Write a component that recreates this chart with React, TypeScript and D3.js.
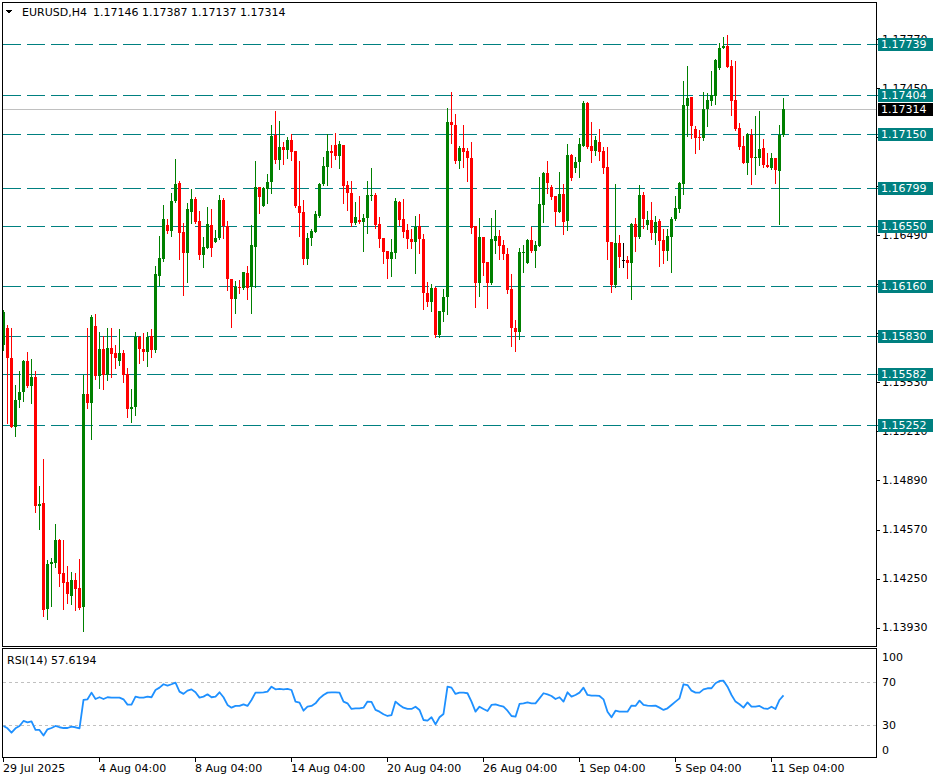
import React from 'react';
import * as d3 from 'd3';

const symbolLabel = 'EURUSD,H4';
const headerValues = '1.17146 1.17387 1.17137 1.17314';
const rsiLabel = 'RSI(14) 57.6194';
const lastPrice = 1.17314;

const openP = [
  1.15774,1.15885,1.15689,1.15239,1.15415,1.15467,1.15670,1.15507,1.15565,1.14723,
  1.14743,1.14051,1.14345,1.14351,1.14501,1.14286,1.14227,1.14136,1.14240,1.14188,
  1.14064,1.15454,1.15396,1.15898,1.15572,1.15748,1.15578,1.15755,1.15722,1.15670,
  1.15722,1.15585,1.15357,1.15370,1.15826,1.15748,1.15728,1.15833,1.15742,1.16225,
  1.16336,1.16558,1.16518,1.16714,1.16832,1.16512,1.16375,1.16642,1.16727,1.16584,
  1.16362,1.16407,1.16558,1.16446,1.16473,1.16721,1.16551,1.16205,1.16074,1.16153,
  1.16146,1.16244,1.16153,1.16414,1.16805,1.16682,1.16792,1.16838,1.17145,1.16982,
  1.17067,1.17047,1.17112,1.17040,1.16682,1.16642,1.16336,1.16473,1.16512,1.16616,
  1.16825,1.16936,1.17040,1.17080,1.17008,1.17080,1.16819,1.16766,1.16571,1.16590,
  1.16577,1.16603,1.16747,1.16753,1.16564,1.16473,1.16388,1.16336,1.16375,1.16708,
  1.16597,1.16525,1.16466,1.16446,1.16551,1.16466,1.16114,1.16055,1.16146,1.15840,
  1.15990,1.16088,1.17230,1.17210,1.16975,1.17060,1.17040,1.16995,1.16551,1.16179,
  1.16479,1.16316,1.16179,1.16453,1.16486,1.16427,1.16368,1.16140,1.15885,1.15859,
  1.16375,1.16309,1.16460,1.16388,1.16420,1.16688,1.16897,1.16805,1.16747,1.16642,
  1.16760,1.16584,1.17014,1.16930,1.16969,1.17073,1.17354,1.17073,1.17040,1.17099,
  1.17040,1.16936,1.16446,1.16166,1.16440,1.16329,1.16329,1.16309,1.16564,1.16479,
  1.16753,1.16558,1.16590,1.16505,1.16584,1.16460,1.16388,1.16479,1.16597,1.16662,
  1.16825,1.17334,1.17393,1.17184,1.17132,1.17125,1.17315,1.17367,1.17399,1.17582,
  1.17713,1.17726,1.17595,1.17373,1.17191,1.17073,1.16962,1.17145,1.16995,1.16995,
  1.17060,1.16949,1.16930,1.16995,1.16910,1.17146,
];

const highP = [
  1.16003,1.15905,1.15885,1.15513,1.15605,1.15676,1.15728,1.15683,1.15605,1.14854,
  1.15030,1.14371,1.14384,1.14606,1.14508,1.14501,1.14332,1.14293,1.14286,1.14377,
  1.15578,1.15885,1.15970,1.15977,1.15859,1.15833,1.15885,1.15885,1.15774,1.15879,
  1.15742,1.15624,1.15487,1.15859,1.15833,1.15853,1.15859,1.15879,1.16290,1.16486,
  1.16688,1.16597,1.16766,1.16988,1.16845,1.16571,1.16701,1.16792,1.16740,1.16649,
  1.16479,1.16675,1.16662,1.16525,1.16753,1.16734,1.16584,1.16205,1.16192,1.16198,
  1.16251,1.16290,1.16558,1.16975,1.16805,1.16805,1.16890,1.17210,1.17302,1.17236,
  1.17099,1.17132,1.17151,1.17040,1.16975,1.16721,1.16505,1.16531,1.16649,1.16832,
  1.17001,1.17151,1.17080,1.17158,1.17106,1.17080,1.16845,1.16845,1.16708,1.16747,
  1.16629,1.16845,1.16930,1.16766,1.16610,1.16473,1.16388,1.16466,1.16734,1.16714,
  1.16727,1.16564,1.16531,1.16616,1.16629,1.16499,1.16185,1.16172,1.16153,1.15996,
  1.16140,1.17321,1.17426,1.17282,1.17073,1.17210,1.17060,1.17099,1.16551,1.16603,
  1.16479,1.16316,1.16603,1.16655,1.16525,1.16460,1.16407,1.16238,1.15937,1.16407,
  1.16427,1.16466,1.16544,1.16453,1.16871,1.16903,1.16975,1.16819,1.16747,1.16903,
  1.16825,1.17086,1.17021,1.17001,1.17125,1.17367,1.17360,1.17230,1.17138,1.17184,
  1.17067,1.17067,1.16446,1.16825,1.16492,1.16440,1.16355,1.16571,1.16603,1.16819,
  1.16773,1.16649,1.16708,1.16616,1.16597,1.16531,1.16531,1.16610,1.16747,1.16838,
  1.17497,1.17595,1.17393,1.17204,1.17178,1.17426,1.17419,1.17563,1.17641,1.17745,
  1.17785,1.17798,1.17634,1.17628,1.17223,1.17138,1.17158,1.17184,1.17269,1.17302,
  1.17119,1.17027,1.17027,1.16995,1.17210,1.17387,
];

const lowP = [
  1.15742,1.15265,1.15239,1.15180,1.15370,1.15409,1.15500,1.15396,1.14684,1.14573,
  1.14005,1.13986,1.14071,1.14325,1.14201,1.14051,1.14090,1.14084,1.14045,1.14051,
  1.13908,1.15363,1.15161,1.15552,1.15494,1.15487,1.15546,1.15565,1.15624,1.15644,
  1.15533,1.15304,1.15272,1.15317,1.15657,1.15676,1.15637,1.15696,1.15728,1.16166,
  1.16323,1.16505,1.16486,1.16708,1.16336,1.16101,1.16185,1.16571,1.16571,1.16336,
  1.16283,1.16407,1.16355,1.16446,1.16466,1.16473,1.16133,1.15892,1.15983,1.16114,
  1.16140,1.16074,1.15983,1.16153,1.16636,1.16682,1.16701,1.16766,1.16962,1.16923,
  1.16956,1.16995,1.16982,1.16675,1.16486,1.16303,1.16303,1.16427,1.16512,1.16610,
  1.16819,1.16819,1.16936,1.16988,1.16930,1.16701,1.16655,1.16551,1.16564,1.16571,
  1.16388,1.16505,1.16721,1.16538,1.16414,1.16309,1.16211,1.16225,1.16342,1.16558,
  1.16479,1.16407,1.16407,1.16244,1.16375,1.16009,1.16029,1.15996,1.15826,1.15826,
  1.15931,1.15977,1.17093,1.16962,1.16930,1.16936,1.16845,1.16505,1.16022,1.16094,
  1.16231,1.16016,1.16172,1.16375,1.16336,1.16336,1.16114,1.15768,1.15735,1.15813,
  1.16251,1.16309,1.16381,1.16283,1.16420,1.16577,1.16766,1.16727,1.16558,1.16642,
  1.16499,1.16525,1.16851,1.16903,1.16871,1.17073,1.17060,1.16969,1.17014,1.16982,
  1.16897,1.16336,1.16120,1.16153,1.16283,1.16283,1.16211,1.16074,1.16388,1.16473,
  1.16538,1.16531,1.16466,1.16433,1.16290,1.16309,1.16329,1.16251,1.16590,1.16642,
  1.16760,1.17138,1.17125,1.17027,1.17053,1.17112,1.17204,1.17341,1.17347,1.17576,
  1.17713,1.17589,1.17275,1.17178,1.17053,1.16962,1.16890,1.16825,1.16890,1.16949,
  1.16936,1.16936,1.16923,1.16832,1.16564,1.17137,
];

const closeP = [
  1.15990,1.15689,1.15240,1.15415,1.15467,1.15670,1.15507,1.15565,1.14723,1.14736,
  1.14045,1.14345,1.14358,1.14501,1.14280,1.14221,1.14149,1.14240,1.14182,1.14058,
  1.15454,1.15396,1.15957,1.15572,1.15748,1.15578,1.15755,1.15715,1.15689,1.15722,
  1.15578,1.15357,1.15370,1.15826,1.15748,1.15728,1.15826,1.15742,1.16238,1.16342,
  1.16597,1.16518,1.16714,1.16825,1.16505,1.16375,1.16662,1.16727,1.16577,1.16362,
  1.16414,1.16564,1.16407,1.16473,1.16721,1.16551,1.16205,1.16074,1.16153,1.16146,
  1.16251,1.16146,1.16427,1.16805,1.16740,1.16799,1.16838,1.17138,1.16982,1.17067,
  1.17047,1.17112,1.17034,1.16682,1.16636,1.16336,1.16473,1.16518,1.16629,1.16825,
  1.16943,1.17040,1.17027,1.17008,1.17086,1.16812,1.16766,1.16571,1.16610,1.16577,
  1.16603,1.16753,1.16753,1.16558,1.16466,1.16381,1.16336,1.16381,1.16714,1.16590,
  1.16512,1.16466,1.16446,1.16544,1.16466,1.16114,1.16055,1.16146,1.15840,1.15996,
  1.16088,1.17230,1.17210,1.16975,1.17060,1.17034,1.16995,1.16538,1.16179,1.16479,
  1.16309,1.16179,1.16466,1.16486,1.16420,1.16368,1.16133,1.15885,1.15859,1.16381,
  1.16381,1.16460,1.16388,1.16427,1.16695,1.16897,1.16832,1.16740,1.16642,1.16760,
  1.16577,1.17014,1.16864,1.16969,1.17086,1.17354,1.17067,1.17040,1.17112,1.17034,
  1.16930,1.16446,1.16166,1.16440,1.16349,1.16329,1.16309,1.16564,1.16479,1.16753,
  1.16597,1.16590,1.16505,1.16577,1.16453,1.16388,1.16486,1.16597,1.16668,1.16832,
  1.17341,1.17386,1.17204,1.17125,1.17125,1.17315,1.17373,1.17406,1.17634,1.17713,
  1.17726,1.17589,1.17367,1.17184,1.17067,1.16962,1.17151,1.16995,1.17001,1.17053,
  1.16949,1.16936,1.16995,1.16916,1.17145,1.17314,
];

const rsiValues = [
  29.4,27.2,23.2,27.2,29.4,34,32.8,33.7,25.7,25.7,20.5,26.3,27.5,29.4,28.2,27.5,27.5,28.8,28.2,27.2,
  53.4,54,60.2,54.3,55.9,54.3,55.9,55.6,55.6,55.6,54,49.1,49.1,56.5,55.6,55.6,56.5,55.9,62.6,64.8,
  67.9,66.6,67.9,69.4,61.1,59,62,63.2,60.5,55.6,56.5,58.6,55.9,56.5,60.5,55.9,48.8,46.3,47.9,47.9,
  49.4,47.9,53.4,60.2,60.2,60.5,61.1,65.7,63.2,63.6,63.2,63.6,62.6,51.9,50.9,43.5,47.2,47.9,50.3,54.9,
  58,60.2,60.5,60.5,60.2,51.9,50.3,45.1,45.7,45.7,46.3,51.9,51.6,44.2,42.6,40.2,38.6,39.5,51.9,48.8,
  46.3,45.1,45.1,47.2,44.2,34.9,34.3,37.4,30.9,37.4,40.5,65.7,64.8,59,60.2,60.2,59.6,51.9,42.6,47.2,
  45.1,43.2,48.8,49.4,48.2,47.2,43.5,38.6,38,49.7,50.3,51.2,50.3,50.3,54.9,59.6,58.6,57.1,54.3,55.9,
  51.9,60.5,56.5,58,60.2,64.8,58,57.4,57.4,57.1,54,42.6,37.4,43.5,42.6,42.6,42.6,48.2,47.9,52.8,
  48.8,48.2,47.9,48.2,46.3,44.2,45.7,48.8,51.9,54.9,67.9,67.2,62,60.2,60.2,63.2,64.2,64.2,68.8,70.9,
  71.2,65.7,58,51.9,49.4,46.3,51.2,47.2,47.2,47.9,45.7,45.1,47.2,45.1,53.4,57.6194,
];

const levelPrices = [1.17739, 1.17404, 1.17150, 1.16799, 1.16550, 1.16160, 1.15830, 1.15582, 1.15252];
const priceTickLabels = ['1.13930','1.14250','1.14570','1.14890','1.15210','1.15530','1.15850','1.16170','1.16490','1.16810','1.17130','1.17450','1.17770'];
const xTickIndex = [0, 24, 48, 72, 96, 120, 144, 168, 192];
const xTickLabels = ['29 Jul 2025','4 Aug 04:00','8 Aug 04:00','14 Aug 04:00','20 Aug 04:00','26 Aug 04:00','1 Sep 04:00','5 Sep 04:00','11 Sep 04:00'];
const rsiTicks = [100, 70, 30, 0];
const rsiLevels = [70, 30];

const FONT = "'DejaVu Sans', Tahoma, sans-serif";
const UP = '#008000';
const DOWN = '#ff0000';
const TEAL = '#008080';

export default function App() {
  const W = 940, H = 782;
  const left = 2, right = 876;
  const mainTop = 2, mainBottom = 646;
  const rsiTop = 648, rsiBottom = 758;

  const x = d3.scaleLinear().domain([0, openP.length - 1]).range([3, 3 + 4 * (openP.length - 1)]);
  const y = d3.scaleLinear().domain([1.1393, 1.1777]).range([627.6, 39.2]);
  const yr = d3.scaleLinear().domain([0, 100]).range([757.8, 649.5]);
  const snap = (v: number) => Math.round(v) + 0.5;

  const rsiLine = d3.line<number>().x((_, i) => x(i) + 0.5).y((d) => yr(d)).curve(d3.curveLinear);

  // axis labels that a level label box fully covers are not drawn (as in the terminal)
  const boxYs = [...levelPrices, lastPrice].map((p) => y(p));
  const visibleTicks = priceTickLabels.filter((t) => !boxYs.some((by) => Math.abs(by - y(+t)) < 4));

  const candles = openP.map((o, i) => {
    const c = closeP[i];
    const cx = Math.round(x(i));
    const yH = Math.round(y(highP[i]));
    const yL = Math.round(y(lowP[i]));
    const yO = Math.round(y(o));
    const yC = Math.round(y(c));
    const color = c > o ? UP : c < o ? DOWN : '#000000';
    const top = Math.min(yO, yC);
    const bh = Math.max(1, Math.abs(yO - yC));
    return (
      <g key={i} fill={color}>
        <rect x={cx} y={yH} width={1} height={Math.max(1, yL - yH + 1)} />
        <rect x={cx - 1} y={top} width={3} height={bh} />
      </g>
    );
  });

  return (
    <svg width={W} height={H} style={{ position: 'absolute', left: 0, top: 0, background: '#fff' }}
      fontFamily={FONT} shapeRendering="crispEdges">
      <rect x={0} y={0} width={W} height={H} fill="#fff" />

      {/* price axis ticks and labels */}
      {priceTickLabels.map((t) => (
        <line key={'t' + t} x1={right} x2={right + 4} y1={snap(y(+t))} y2={snap(y(+t))} stroke="#000" />
      ))}
      {visibleTicks.map((t) => (
        <text key={t} x={882} y={y(+t)} dy="0.35em" fontSize={11} fill="#000">{t}</text>
      ))}

      {/* level lines */}
      {levelPrices.map((p) => (
        <line key={p} x1={left + 1} x2={right} y1={snap(y(p))} y2={snap(y(p))} stroke={TEAL}
          strokeDasharray="18,6" />
      ))}
      <line x1={left} x2={right} y1={snap(y(lastPrice))} y2={snap(y(lastPrice))} stroke="#c0c0c0" />

      {candles}

      {/* level labels */}
      {levelPrices.map((p) => (
        <g key={'l' + p}>
          <line x1={right} x2={right + 3} y1={snap(y(p))} y2={snap(y(p))} stroke={TEAL} />
          <rect x={878} y={Math.round(y(p)) - 6} width={55} height={13} fill={TEAL} />
          <text x={881} y={y(p)} dy="0.36em" fontSize={11} fill="#fff">{p.toFixed(5)}</text>
        </g>
      ))}
      <rect x={878} y={Math.round(y(lastPrice)) - 6} width={55} height={13} fill="#000" />
      <text x={881} y={y(lastPrice)} dy="0.36em" fontSize={11} fill="#fff">{lastPrice.toFixed(5)}</text>

      {/* header */}
      <path d="M6,10 L12,10 L9,14 Z" fill="#000" />
      <text x={22} y={16} fontSize={11} fill="#000">{symbolLabel}</text>
      <text x={93} y={16} fontSize={11} fill="#000">{headerValues}</text>

      {/* panel borders */}
      <rect x={left + 0.5} y={mainTop + 0.5} width={right - left} height={mainBottom - mainTop} fill="none" stroke="#000" />
      <rect x={left + 0.5} y={rsiTop + 0.5} width={right - left} height={rsiBottom - rsiTop - 1} fill="none" stroke="#000" />

      {/* RSI panel */}
      {rsiLevels.map((l) => (
        <line key={l} x1={left + 1} x2={right} y1={snap(yr(l))} y2={snap(yr(l))} stroke="#c0c0c0" strokeDasharray="3,3" />
      ))}
      <path d={rsiLine(rsiValues) || ''} fill="none" stroke="#1e90ff" strokeWidth={1.8}
        shapeRendering="geometricPrecision" strokeLinejoin="round" />
      <text x={7} y={660} dy="0.35em" fontSize={11} fill="#000">{rsiLabel}</text>
      {rsiTicks.map((t) => {
        const yy = t === 100 ? yr(t) + 8 : t === 0 ? yr(t) - 8 : yr(t);
        return (
          <text key={t} x={882} y={yy} dy="0.35em" fontSize={11} fill="#000">{t}</text>
        );
      })}

      {/* time axis */}
      {xTickIndex.map((idx, k) => (
        <g key={idx}>
          <line x1={Math.round(x(idx)) + 0.5} x2={Math.round(x(idx)) + 0.5} y1={rsiBottom} y2={rsiBottom + 4} stroke="#000" />
          <text x={x(idx)} y={768} dy="0.35em" fontSize={11} fill="#000">{xTickLabels[k]}</text>
        </g>
      ))}
    </svg>
  );
}
